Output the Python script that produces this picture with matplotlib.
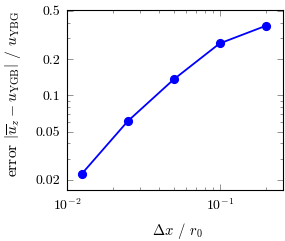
import matplotlib
matplotlib.use("Agg")
import matplotlib.pyplot as plt
from matplotlib.ticker import LogLocator, FixedLocator, FixedFormatter, NullFormatter

# data
dx = [0.0125, 0.025, 0.05, 0.1, 0.2]
error = [0.0224, 0.0611, 0.1355, 0.269, 0.376]
ytick_vals = [0.02, 0.05, 0.1, 0.2, 0.5]
ytick_labels = ["0.02", "0.05", "0.1", "0.2", "0.5"]

plt.rcParams["font.family"] = "cmr10"
plt.rcParams["mathtext.fontset"] = "cm"
plt.rcParams["axes.formatter.use_mathtext"] = True
plt.rcParams["font.size"] = 10

fig = plt.figure(figsize=(2.85, 2.41), dpi=100)
ax = fig.add_axes([0.235, 0.212, 0.758, 0.747])

ax.plot(dx, error, color=(0, 0, 1), marker="o", markersize=5.6, linewidth=1.3)

ax.set_xscale("log")
ax.set_yscale("log")
ax.set_xlim(0.01, 0.26)
ax.set_ylim(0.0165, 0.51)

ax.yaxis.set_major_locator(FixedLocator(ytick_vals))
ax.yaxis.set_major_formatter(FixedFormatter(ytick_labels))
ax.yaxis.set_minor_locator(LogLocator(base=10, subs=range(1, 10)))
ax.yaxis.set_minor_formatter(NullFormatter())
ax.xaxis.set_major_locator(LogLocator(base=10))
ax.xaxis.set_minor_locator(LogLocator(base=10, subs=range(2, 10)))
ax.xaxis.set_minor_formatter(NullFormatter())

ax.tick_params(which="both", direction="in", top=True, right=True, width=0.5,
               colors="0.4", labelcolor="black", labelsize=10, pad=5)
ax.tick_params(which="major", length=4)
ax.tick_params(which="minor", length=2)
for s in ax.spines.values():
    s.set_linewidth(0.8)

ax.set_xlabel(r"$\Delta x$ / $r_0$", fontsize=10.5)
ax.xaxis.set_label_coords(0.51, -0.175)
ax.set_ylabel(r"error $\left|\overline{u}_z - u_{\mathrm{YGB}}\right|$ / $u_{\mathrm{YBG}}$", fontsize=11.2)
ax.yaxis.set_label_coords(-0.205, 0.536)

fig.savefig("out.png", dpi=100)
